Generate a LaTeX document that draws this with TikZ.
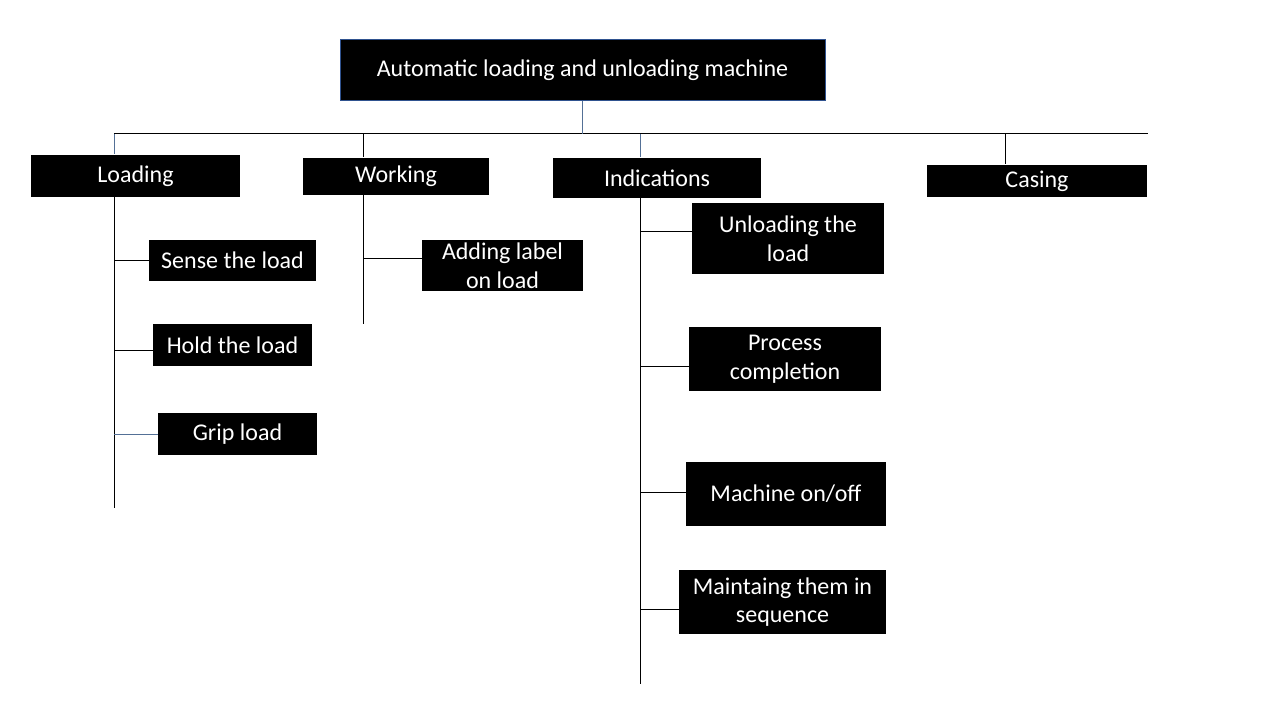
\documentclass[tikz,border=0pt]{standalone}
\usepackage{fontspec}
\setmainfont{Carlito}
\usepackage{tikz}
\tikzset{>=latex}
\definecolor{linkblue}{RGB}{84,112,150}
\definecolor{rimblue}{RGB}{47,82,143}
\tikzstyle{func}=[fill=black, text=white, inner sep=0pt, align=center, font=\fontsize{18}{21.6}\selectfont]
\newcommand{\func}{\node[func]}

\begin{document}
\begin{tikzpicture}[x=0.75pt, y=-0.75pt, line width=0.75pt]
\useasboundingbox (0,0) rectangle (1280,720);
% boxes
\func[draw=rimblue, minimum width=363.75pt, minimum height=45.75pt] (root) at (582.5,70.5) {Automatic loading and unloading machine};
\func[minimum width=156.75pt, minimum height=31.5pt] (ld) at (135.5,176) {Loading};
\func[minimum width=139.5pt, minimum height=27.75pt] (wk) at (396,176.5) {Working};
\func[minimum width=156pt, minimum height=30pt] (ind) at (657,178) {Indications};
\func[minimum width=165pt, minimum height=24pt] (cas) at (1037,181) {Casing};
\func[minimum width=125.25pt, minimum height=30.75pt] (sense) at (232.5,260.5) {Sense the load};
\func[minimum width=119.25pt, minimum height=31.5pt] (hold) at (232.5,345) {Hold the load};
\func[minimum width=119.25pt, minimum height=31.5pt] (grip) at (237.5,434) {Grip load};
\func[minimum width=120.75pt, minimum height=38.25pt] (label) at (502.5,265.5) {Adding label\\on load};
\func[minimum width=144pt, minimum height=53.25pt] (unl) at (788,238.5) {Unloading the\\load};
\func[minimum width=144pt, minimum height=48pt] (proc) at (785,359) {Process\\completion};
\func[minimum width=150pt, minimum height=48pt] (onoff) at (786,494) {Machine on/off};
\func[minimum width=155.25pt, minimum height=48pt] (seq) at (782.5,602) {Maintaing them in\\sequence};
% bus and trunks
\coordinate (busl) at (114,134);
\coordinate (busr) at (1148,134);
\coordinate (wkt) at (363.5,134);
\coordinate (indt) at (640,134);
\coordinate (cast) at (1005,134);
\coordinate (ldend) at (114,508);
\coordinate (wkend) at (363.5,324);
\coordinate (indend) at (640,684);
\draw (busl) -- (busr);
\draw[linkblue] (root.south) -- (root.south |- busl);
\draw[linkblue] (busl) -- (busl |- ld.north);
\draw (wkt) -- (wkt |- wk.north);
\draw[linkblue] (indt) -- (indt |- ind.north);
\draw (cast) -- (cast |- cas.north);
% loading branch
\draw (ldend |- ld.south) -- (ldend);
\draw (ldend |- sense.west) -- (sense.west);
\draw ([yshift=-3.75pt]ldend |- hold.west) -- ([yshift=-3.75pt]hold.west);
\draw[linkblue] (ldend |- grip.west) -- (grip.west);
% working branch
\draw (wkend |- wk.south) -- (wkend);
\draw ([yshift=5.6pt]wkend |- label.west) -- ([yshift=5.6pt]label.west);
% indications branch
\draw (indend |- ind.south) -- (indend);
\draw ([yshift=4.9pt]indend |- unl.west) -- ([yshift=4.9pt]unl.west);
\draw ([yshift=-5.25pt]indend |- proc.west) -- ([yshift=-5.25pt]proc.west);
\draw ([yshift=1.5pt]indend |- onoff.west) -- ([yshift=1.5pt]onoff.west);
\draw ([yshift=-5.25pt]indend |- seq.west) -- ([yshift=-5.25pt]seq.west);
\end{tikzpicture}
\end{document}
